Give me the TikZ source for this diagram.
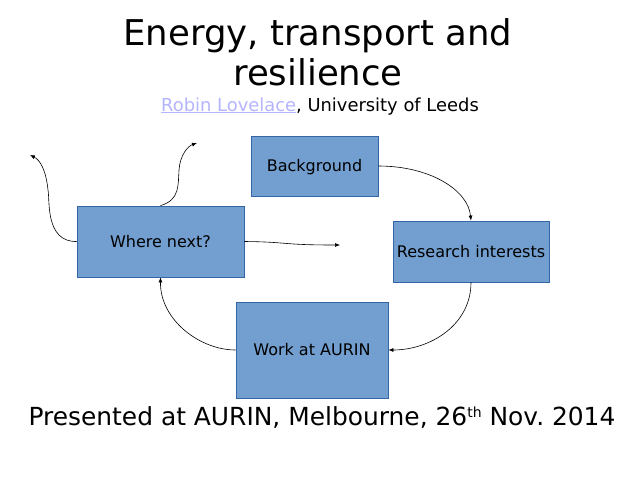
\documentclass[tikz,border=0pt]{standalone}
\usepackage{fontspec}
\setmainfont{DejaVu Sans}
\usetikzlibrary{arrows.meta}
\definecolor{boxfill}{HTML}{729FCF}
\definecolor{boxline}{HTML}{3465A4}
\definecolor{linkcol}{HTML}{B4B4FF}
\tikzset{
  topic/.style={draw=boxline,fill=boxfill,line width=0.8pt,inner sep=0pt,text height=11.5pt,text depth=0pt,font=\fontsize{16}{19}\selectfont},
  flow/.style={line width=0.6pt,-{Latex[length=5pt,width=4pt]}}
}
\begin{document}
\begin{tikzpicture}[x=1pt,y=-1pt]
\path[use as bounding box] (0,0) rectangle (640,480);
% heading
\node[anchor=base,inner sep=0pt,font=\fontsize{35.5}{40}\selectfont] (title1) at (318,45) {Energy, transport and};
\node[anchor=base,inner sep=0pt,font=\fontsize{35.5}{40}\selectfont] (title2) at (318,85) {resilience};
\node[anchor=base,inner sep=0pt,font=\fontsize{17.9}{21}\selectfont] (author) at (320,111) {\textcolor{linkcol}{\underline{Robin Lovelace}}, University of Leeds};
% boxes
\node[topic,minimum width=127pt,minimum height=60pt] (background) at (314.5,166) {Background};
\node[topic,minimum width=167pt,minimum height=71pt] (wherenext) at (160.5,241.5) {Where next?};
\node[topic,minimum width=156pt,minimum height=61pt] (research) at (471,251.5) {Research interests};
\node[topic,minimum width=152pt,minimum height=96pt] (aurin) at (312,350) {Work at AURIN};
% free ends
\coordinate (endleft) at (30,155);
\coordinate (endtop) at (197,143);
\coordinate (endright) at (340,245);
% connectors
\draw[flow] (background.east) .. controls (430,166) and (468,190) .. (research.north);
\draw[flow] (research.south) .. controls (471,325) and (430,350) .. (aurin.east);
\draw[flow] (aurin.west) .. controls (200,350) and (160,320) .. (wherenext.south);
\draw[flow] (wherenext.east) .. controls (290,242) and (280,245) .. (endright);
\draw[flow] (wherenext.west) .. controls (45,242) and (50,200) .. (48,190) .. controls (46,170) and (40,160) .. (endleft);
\draw[flow] (wherenext.north) .. controls (180,200) and (178,185) .. (179,170) .. controls (180,155) and (188,146) .. (endtop);
% footer
\node[anchor=base,inner sep=0pt,font=\fontsize{24.9}{29}\selectfont] (venue) at (322,425) {Presented at AURIN, Melbourne, 26\raisebox{8pt}{\fontsize{14}{14}\selectfont th} Nov.\ 2014};
\end{tikzpicture}
\end{document}
